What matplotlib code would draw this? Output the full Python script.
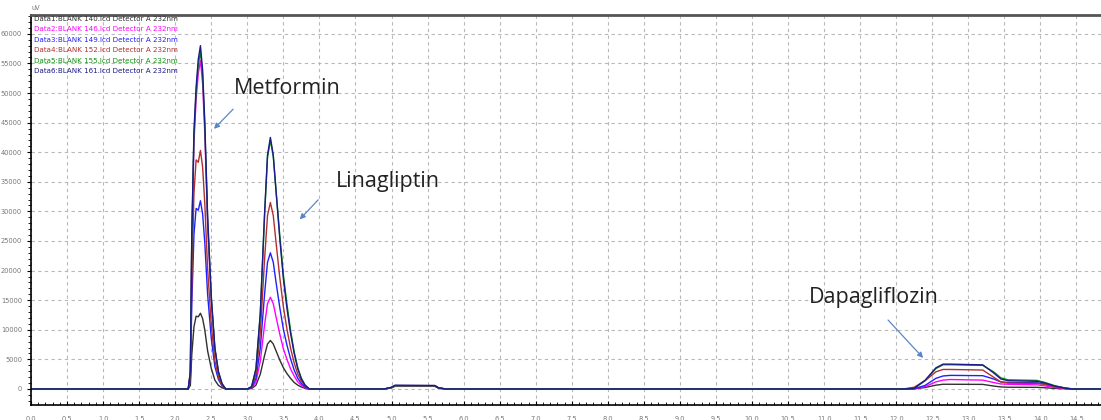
import matplotlib.pyplot as plt
from matplotlib.ticker import MultipleLocator, FuncFormatter

t = [0.0, 2.18, 2.21, 2.23, 2.26, 2.29, 2.32, 2.35, 2.38, 2.41, 2.45, 2.50, 2.55, 2.60, 2.65, 2.70,
     3.00, 3.06, 3.12, 3.18, 3.24, 3.28, 3.32, 3.36, 3.40, 3.45, 3.50, 3.55, 3.60, 3.65, 3.70, 3.75, 3.80, 3.86,
     4.90, 5.00, 5.05, 5.60, 5.65, 5.75,
     12.10, 12.25, 12.40, 12.55, 12.65, 12.75, 13.20, 13.35, 13.45, 13.55, 13.95, 14.05, 14.20, 14.35, 14.45, 14.84]

# intensities (uV) per injection
data1 = [0, 0, 600, 5800, 10500, 12300, 12200, 12800, 11900, 10000, 6400, 3500, 1500, 600, 200, 0,
         0, 80, 650, 2500, 5700, 7600, 8200, 7600, 6400, 4900, 3600, 2600, 1800, 1100, 650, 330, 120, 0,
         0, 200, 450, 450, 150, 0,
         0, 20, 250, 650, 800, 800, 780, 500, 350, 300, 280, 220, 100, 30, 0, 0]
data2 = [0, 0, 2800, 25000, 41600, 48800, 53300, 55500, 51600, 43300, 27800, 15000, 6700, 2800, 800, 0,
         0, 150, 1200, 4700, 10900, 14400, 15500, 14400, 12100, 9300, 6800, 5000, 3400, 2200, 1200, 600, 230, 0,
         0, 250, 500, 500, 200, 0,
         0, 30, 400, 1200, 1500, 1600, 1500, 1100, 850, 800, 700, 550, 250, 60, 0, 0]
data3 = [0, 0, 1600, 14300, 26100, 30500, 30200, 31800, 29600, 24800, 15900, 8600, 3800, 1600, 500, 0,
         0, 200, 1800, 6900, 16100, 21400, 23000, 21400, 17900, 13800, 10100, 7400, 5100, 3200, 1800, 900, 350, 0,
         0, 250, 550, 550, 200, 0,
         0, 50, 600, 1800, 2200, 2300, 2250, 1700, 1200, 1100, 1050, 850, 450, 150, 0, 0]
data4 = [0, 0, 2000, 18100, 33000, 38700, 38300, 40300, 37500, 31400, 20200, 10900, 4800, 2000, 600, 0,
         0, 300, 2500, 9500, 22000, 29300, 31500, 29300, 24600, 18900, 13900, 10100, 6900, 4400, 2500, 1300, 500, 0,
         0, 250, 550, 550, 200, 0,
         0, 300, 1400, 2900, 3300, 3300, 3200, 2000, 1200, 1000, 950, 800, 400, 100, 0, 0]
data5 = [0, 0, 2800, 25600, 42700, 50200, 54700, 57000, 53000, 44500, 28500, 15400, 6800, 2800, 850, 0,
         0, 400, 3400, 12600, 29400, 39100, 42000, 39300, 33300, 26000, 19300, 14300, 9900, 6300, 3600, 1800, 700, 0,
         0, 250, 550, 550, 200, 0,
         0, 120, 1400, 3450, 4100, 4100, 4000, 2900, 1900, 1550, 1450, 1150, 550, 150, 0, 0]
data6 = [0, 0, 2900, 26100, 43500, 51000, 55700, 58000, 53900, 45200, 29000, 15700, 7000, 2900, 900, 0,
         0, 400, 3400, 12800, 29800, 39500, 42500, 39500, 33200, 25500, 18700, 13600, 9400, 6000, 3400, 1700, 640, 0,
         0, 300, 650, 600, 200, 0,
         0, 130, 1470, 3570, 4200, 4200, 4070, 2730, 1700, 1400, 1300, 1050, 500, 130, 0, 0]

series = [data1, data2, data3, data4, data5, data6]
names = ["Data1:BLANK 140.lcd Detector A 232nm",
         "Data2:BLANK 146.lcd Detector A 232nm",
         "Data3:BLANK 149.lcd Detector A 232nm",
         "Data4:BLANK 152.lcd Detector A 232nm",
         "Data5:BLANK 155.lcd Detector A 232nm",
         "Data6:BLANK 161.lcd Detector A 232nm"]
colors = ["#303030", "#ff00ff", "#2020ff", "#b03030", "#109010", "#1a1a8c"]

peaks = ["Metformin", "Linagliptin", "Dapagliflozin"]

fig = plt.figure(figsize=(11.01, 4.20), dpi=100)
ax = fig.add_axes([31 / 1101, 15 / 420, 1070 / 1101, 390 / 420])

for y, c in zip(series, colors):
    ax.plot(t, y, color=c, lw=1.0)

ax.set_xlim(0, 14.84)
ax.set_ylim(-2703, 63176)

ax.xaxis.set_major_locator(MultipleLocator(0.5))
ax.xaxis.set_minor_locator(MultipleLocator(0.1))
ax.yaxis.set_major_locator(MultipleLocator(5000))
ax.yaxis.set_minor_locator(MultipleLocator(1000))
ax.xaxis.set_major_formatter(FuncFormatter(lambda v, p: f"{v:.1f}"))
ax.yaxis.set_major_formatter(FuncFormatter(lambda v, p: f"{v:.0f}"))

ax.grid(True, which='major', color='#b8b8b8', ls=(0, (3, 3)), lw=0.8)
ax.tick_params(axis='both', which='major', labelsize=4.8, labelcolor='#777777', length=3, width=0.8)
ax.tick_params(axis='both', which='minor', length=2, width=0.6)
ax.tick_params(axis='x', which='both', direction='in', pad=8)
ax.tick_params(axis='y', which='both', direction='out')

ax.spines['right'].set_visible(False)
ax.spines['top'].set_color('#555555')
ax.spines['top'].set_linewidth(2)
ax.spines['left'].set_linewidth(1.2)
ax.spines['bottom'].set_linewidth(1.2)

fig.text(31 / 1101, 1 - 8 / 420, "uV", fontsize=4.8, color='#777777', va='center')

for i, (name, c) in enumerate(zip(names, colors)):
    ax.text(0.003, 1 - (4 + 10.4 * i) / 390, name, transform=ax.transAxes,
            fontsize=5.1, color=c, va='center', ha='left')

arrow = dict(arrowstyle='-|>', color='#5b87c8', lw=0.9, mutation_scale=8)
ax.annotate("", xy=(2.51, 43600), xytext=(2.83, 47600), arrowprops=arrow)
ax.annotate("", xy=(3.70, 28300), xytext=(4.01, 32300), arrowprops=arrow)
ax.annotate("", xy=(12.40, 4900), xytext=(11.86, 12000), arrowprops=arrow)

font = dict(fontsize=15.5, color='#222222', family='Open Sans', va='center', ha='center')
ax.text(3.56, 50800, peaks[0], **font)
ax.text(4.95, 35100, peaks[1], **font)
ax.text(11.69, 15500, peaks[2], **font)

fig.savefig("out.png", dpi=100)
